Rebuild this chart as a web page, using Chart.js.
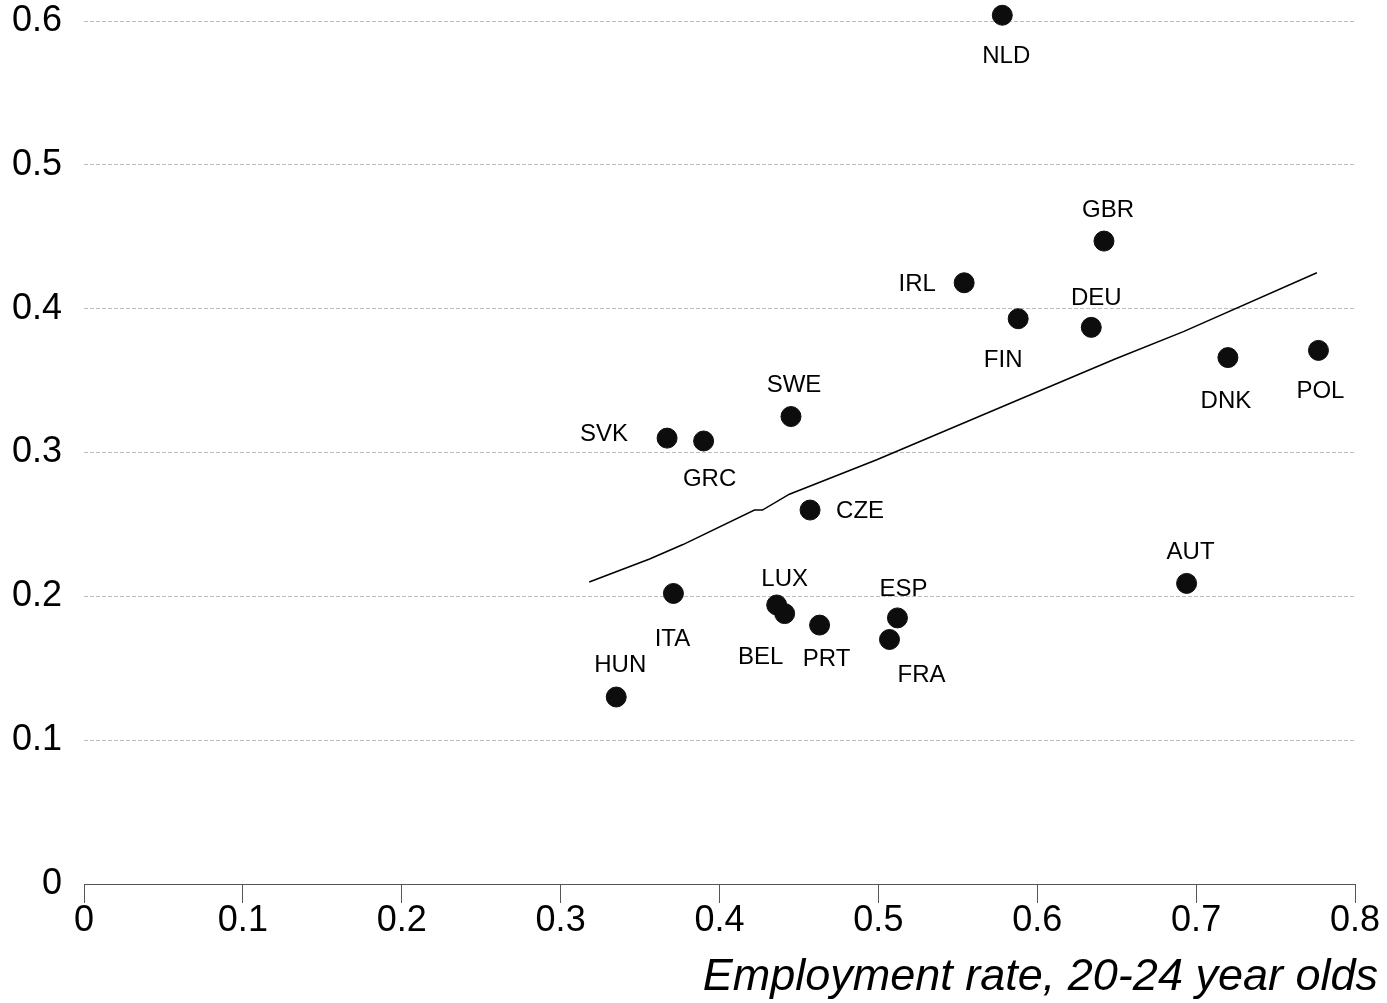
<!DOCTYPE html>
<html>
<head>
<meta charset="utf-8">
<script src="https://cdn.jsdelivr.net/npm/chart.js@4/dist/chart.umd.min.js"></script>
<style>
  html, body { margin: 0; padding: 0; background: #fff; }
  #wrap { width: 1387px; height: 1003px; }
</style>
</head>
<body>
<div id="wrap"><canvas id="c" width="1387" height="1003"></canvas></div>
<script>
// Country codes
const countries = ['NLD','GBR','IRL','FIN','DEU','DNK','POL','SWE','SVK','GRC','CZE','ITA','LUX','BEL','PRT','ESP','FRA','AUT','HUN'];
// Employment rate, 20-24 year olds
const employment = [0.578,0.642,0.554,0.588,0.634,0.720,0.777,0.445,0.367,0.390,0.457,0.371,0.436,0.441,0.463,0.512,0.507,0.694,0.335];
// Vertical-axis values
const outcome = [0.604,0.447,0.418,0.393,0.387,0.366,0.371,0.325,0.310,0.308,0.260,0.202,0.194,0.188,0.180,0.185,0.170,0.209,0.130];

// Fitted curve
const fitX = [0.318,0.356,0.377,0.422,0.427,0.444,0.499,0.589,0.649,0.692,0.776];
const fitY = [0.210,0.226,0.236,0.260,0.260,0.271,0.295,0.337,0.365,0.384,0.425];

// Axis ticks
const xTicks = [0,0.1,0.2,0.3,0.4,0.5,0.6,0.7,0.8];
const yTicks = [0,0.1,0.2,0.3,0.4,0.5,0.6];
const xTitle = 'Employment rate, 20-24 year olds';

// Label placement (pixel offset of the label centre from its point)
const labelOffset = {
  NLD:[4,41], GBR:[4,-31], IRL:[-47,2], FIN:[-15,42], DEU:[5,-29], DNK:[-2,44],
  POL:[2,41], SWE:[3,-31], SVK:[-63,-4], GRC:[6,38], CZE:[50,1], ITA:[-1,46],
  LUX:[8,-26], BEL:[-24,44], PRT:[7,34], ESP:[6,-29], FRA:[32,36], AUT:[4,-31], HUN:[4,-32]
};

const FONT = '"Liberation Sans", Arial, Helvetica, sans-serif';

const points = countries.map((c, i) => ({ x: employment[i], y: outcome[i], label: c }));
const fitLine = fitX.map((x, i) => ({ x: x, y: fitY[i] }));

const pointLabels = {
  id: 'pointLabels',
  afterDatasetsDraw(chart) {
    const ctx = chart.ctx;
    const meta = chart.getDatasetMeta(1);
    ctx.save();
    ctx.font = '24px ' + FONT;
    ctx.fillStyle = '#000';
    ctx.textAlign = 'center';
    ctx.textBaseline = 'middle';
    meta.data.forEach((el, i) => {
      const name = countries[i];
      const off = labelOffset[name] || [0, -30];
      ctx.fillText(name, el.x + off[0], el.y + off[1]);
    });
    ctx.restore();
  }
};

const axisTitle = {
  id: 'axisTitle',
  afterDraw(chart) {
    const ctx = chart.ctx;
    ctx.save();
    ctx.font = 'italic 45px ' + FONT;
    ctx.fillStyle = '#000';
    ctx.textAlign = 'right';
    ctx.textBaseline = 'alphabetic';
    ctx.fillText(xTitle, 1378, 990);
    ctx.restore();
  }
};

new Chart(document.getElementById('c'), {
  type: 'scatter',
  data: {
    datasets: [
      {
        data: fitLine,
        showLine: true,
        borderColor: '#000',
        borderWidth: 1.5,
        pointRadius: 0,
        pointHoverRadius: 0,
        fill: false,
        tension: 0
      },
      {
        data: points,
        backgroundColor: '#0d0d0d',
        borderColor: '#0d0d0d',
        pointRadius: 10,
        pointHoverRadius: 10,
        clip: false
      }
    ]
  },
  options: {
    responsive: false,
    animation: false,
    events: [],
    layout: { padding: { top: 21, right: 32, left: 0, bottom: 0 } },
    plugins: { legend: { display: false }, tooltip: { enabled: false }, title: { display: false } },
    scales: {
      x: {
        type: 'linear',
        min: 0, max: 0.8,
        afterBuildTicks(scale) { scale.ticks = xTicks.map(v => ({ value: v })); },
        afterFit(scale) { scale.height = 119; },
        ticks: {
          font: { family: FONT, size: 36 },
          color: '#000',
          padding: -4,
          maxRotation: 0,
          callback: v => String(+Number(v).toFixed(1))
        },
        grid: { drawOnChartArea: false, drawTicks: true, tickLength: 19, color: '#555', lineWidth: 1 },
        border: { display: true, color: '#555', width: 1 }
      },
      y: {
        type: 'linear',
        min: 0, max: 0.6,
        afterBuildTicks(scale) { scale.ticks = yTicks.map(v => ({ value: v })); },
        afterFit(scale) { scale.width = 84; scale.paddingTop = 0; scale.paddingBottom = 0; },
        ticks: {
          font: { family: FONT, size: 36 },
          color: '#000',
          padding: 22,
          callback: v => String(+Number(v).toFixed(1))
        },
        grid: {
          drawTicks: false,
          color: ctx => ctx.tick && ctx.tick.value === 0 ? 'rgba(0,0,0,0)' : '#bdbdbd',
          lineWidth: 1
        },
        border: { display: false, dash: [4, 2] }
      }
    }
  },
  plugins: [pointLabels, axisTitle]
});
</script>
</body>
</html>
